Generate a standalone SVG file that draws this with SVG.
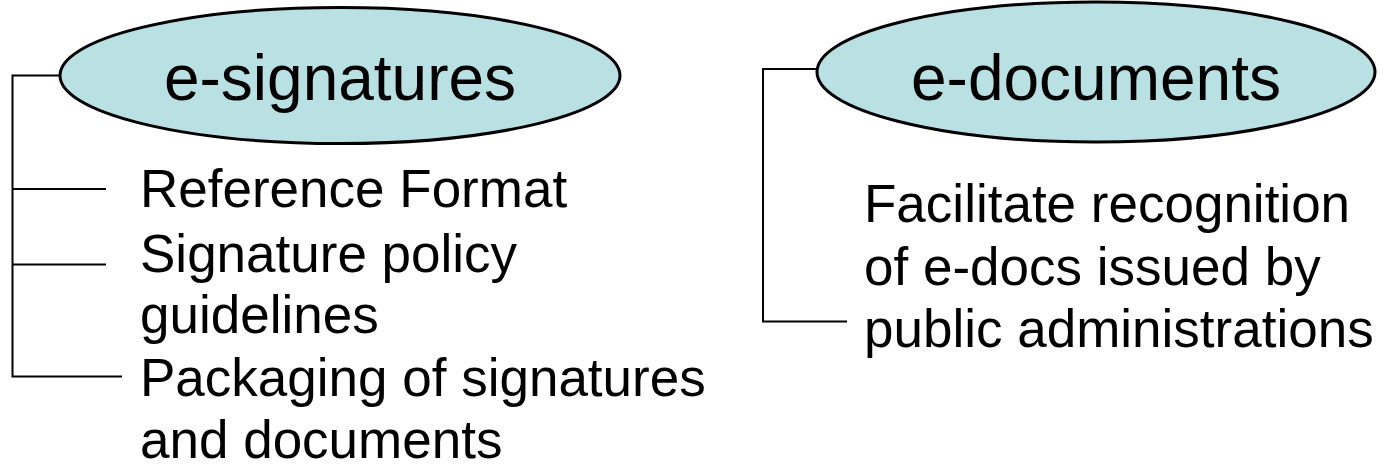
<svg xmlns="http://www.w3.org/2000/svg" width="1388" height="466" viewBox="0 0 1388 466">
<style>
.oval{fill:#b9e0e3;stroke:#000;stroke-width:3}
.title{font-family:"Liberation Sans",Arial,sans-serif;font-size:64px;fill:#000;text-anchor:middle}
.item{font-family:"Liberation Sans",Arial,sans-serif;font-size:53px;fill:#000}
.conn{fill:none;stroke:#000;stroke-width:2}
</style>
<rect width="1388" height="466" fill="#fff"/>
<g id="connectors">
<path class="conn" d="M60 75.5 H12.5 V376.5 H122"/>
<path class="conn" d="M13 189 H106"/>
<path class="conn" d="M13 264.5 H106"/>
<path class="conn" d="M817 69 H763 V321.5 H847"/>
</g>
<g id="e-signatures">
<ellipse class="oval" cx="340" cy="75.5" rx="280" ry="68"/>
<text class="title" x="340" y="100">e-signatures</text>
</g>
<g id="e-documents">
<ellipse class="oval" cx="1096" cy="72" rx="279" ry="70"/>
<text class="title" x="1096" y="100">e-documents</text>
</g>
<g id="reference-format">
<text class="item" x="140" y="207">Reference Format</text>
</g>
<g id="signature-policy">
<text class="item" x="140" y="272">Signature policy</text>
<text class="item" x="140" y="333">guidelines</text>
</g>
<g id="packaging">
<text class="item" x="140" y="396">Packaging of signatures</text>
<text class="item" x="140" y="458">and documents</text>
</g>
<g id="facilitate">
<text class="item" x="864" y="222">Facilitate recognition</text>
<text class="item" x="864" y="285">of e-docs issued by</text>
<text class="item" x="864" y="347">public administrations</text>
</g>
</svg>
